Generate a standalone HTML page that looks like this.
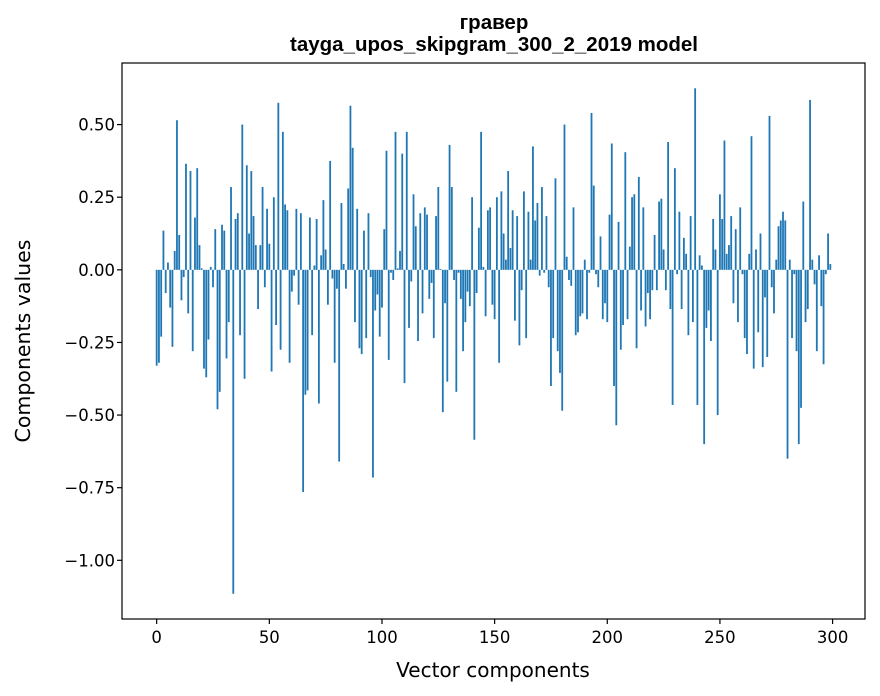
<!DOCTYPE html>
<html><head><meta charset="utf-8"><style>
body{margin:0;background:#fff;}
svg{display:block;font-family:"DejaVu Sans","Liberation Sans",sans-serif;}
</style></head><body>
<svg id="chart" width="880" height="696">
<rect width="880" height="696" fill="#fff"/>
<text x="494" y="29" text-anchor="middle" font-size="20.5" font-weight="bold" font-family="Liberation Sans, sans-serif">гравер</text>
<text x="494" y="51" text-anchor="middle" font-size="20.5" font-weight="bold" font-family="Liberation Sans, sans-serif">tayga_upos_skipgram_300_2_2019 model</text>
<g id="bars"></g>
<g id="axes"></g>
<text x="493" y="677" text-anchor="middle" font-size="20">Vector components</text>
<text transform="translate(30,341) rotate(-90)" text-anchor="middle" font-size="20.5">Components values</text>
</svg>
<script>
const values = [
-0.33,-0.32,-0.23,0.135,-0.08,0.025,-0.13,-0.265,0.065,0.515,0.12,-0.105,-0.025,0.365,-0.15,0.34,-0.28,0.18,0.35,0.085,0.005,-0.34,-0.37,-0.24,0.01,-0.06,0.14,-0.48,-0.42,0.155,0.135,-0.305,-0.18,0.285,-1.115,0.175,0.195,-0.225,0.5,-0.375,0.36,0.125,0.34,0.185,0.085,-0.135,0.085,0.285,-0.06,0.21,0.09,
-0.35,0.25,-0.19,0.575,-0.275,0.475,0.225,0.205,-0.32,-0.075,-0.02,0.21,-0.12,0.195,-0.765,-0.43,-0.415,0.18,-0.225,0.015,0.175,-0.46,0.05,0.24,0.07,-0.12,0.375,-0.03,-0.32,-0.065,-0.66,0.23,0.02,-0.065,0.28,0.565,0.42,-0.18,0.21,-0.27,-0.29,0.135,-0.235,0.195,-0.025,-0.715,-0.14,-0.085,-0.23,-0.13,0.14,
0.41,-0.31,-0.01,-0.035,0.475,0.005,0.065,0.40,-0.39,0.475,-0.2,-0.04,0.26,0.15,-0.245,0.195,-0.15,0.215,0.19,-0.1,-0.045,-0.235,0.185,0.285,0.003,-0.49,-0.115,-0.385,0.43,0.285,-0.035,-0.42,-0.01,-0.1,-0.28,-0.18,-0.075,-0.125,0.25,-0.585,-0.08,0.145,0.475,0.01,-0.16,0.205,0.215,-0.12,-0.17,0.25,
-0.32,0.27,0.125,0.035,0.34,0.075,0.205,-0.175,0.185,-0.26,-0.07,0.27,-0.235,0.2,0.035,0.425,0.17,0.23,-0.02,0.285,-0.01,0.185,-0.06,-0.4,-0.235,0.315,-0.28,-0.355,-0.485,0.5,0.045,-0.035,-0.055,0.215,-0.225,-0.215,-0.16,-0.15,0.035,-0.17,-0.01,0.54,0.29,-0.015,-0.06,0.115,-0.17,-0.115,-0.18,0.19,
0.435,-0.4,-0.535,0.165,-0.275,-0.19,0.405,-0.17,0.08,0.25,0.26,-0.27,0.32,-0.14,0.215,-0.195,-0.08,-0.17,-0.07,0.12,-0.07,0.235,0.245,0.07,-0.07,0.44,-0.135,-0.465,0.35,-0.015,0.2,-0.135,0.11,0.055,-0.225,0.185,-0.18,0.625,-0.465,0.05,0.015,-0.6,-0.2,-0.14,-0.245,0.175,0.07,-0.5,0.26,0.175,
0.445,0.055,0.085,0.185,-0.115,0.14,-0.18,0.215,-0.015,-0.235,-0.29,0.055,0.46,-0.34,0.07,-0.215,0.125,-0.335,-0.095,-0.3,0.53,-0.06,-0.15,0.035,0.15,0.17,0.2,0.17,-0.65,0.035,-0.235,-0.015,-0.28,-0.6,-0.475,0.235,-0.18,-0.135,0.585,0.035,-0.05,-0.28,0.05,-0.125,-0.325,-0.015,0.125,0.02
];
const xTicks = [0,50,100,150,200,250,300];
const yTicks = [0.5,0.25,0,-0.25,-0.5,-0.75,-1.0];

const NS="http://www.w3.org/2000/svg";
const L=122,R=865,T=63,B=619;
const n=values.length;
const xmin=-0.4-0.05*(n-0.2), xmax=(n-1)+0.4+0.05*(n-0.2);
const vmax=Math.max(...values), vmin=Math.min(...values);
const ymin=vmin-0.05*(vmax-vmin), ymax=vmax+0.05*(vmax-vmin);
const X=v=>L+(v-xmin)/(xmax-xmin)*(R-L);
const Y=v=>B-(v-ymin)/(ymax-ymin)*(B-T);
const bars=document.getElementById('bars');
values.forEach((v,i)=>{
  const r=document.createElementNS(NS,'rect');
  const y0=Y(0), y1=Y(v);
  r.setAttribute('x',X(i-0.4));
  r.setAttribute('width',X(i+0.4)-X(i-0.4));
  r.setAttribute('y',Math.min(y0,y1));
  r.setAttribute('height',Math.max(Math.abs(y1-y0),0.3));
  r.setAttribute('fill','#1f77b4');
  
  
  bars.appendChild(r);
});
const axes=document.getElementById('axes');
function el(tag,attrs,txt){const e=document.createElementNS(NS,tag);for(const k in attrs)e.setAttribute(k,attrs[k]);if(txt!==undefined)e.textContent=txt;axes.appendChild(e);return e;}
const frame=el('rect',{x:L,y:T,width:R-L,height:B-T,fill:'none',stroke:'#000','stroke-width':1.2});


xTicks.forEach(t=>{
  const x=X(t);
  const tk=el('line',{x1:x,x2:x,y1:B,y2:B+5,stroke:'#000','stroke-width':1.2});
  
  
  const lb=el('text',{x:x,y:B+24,'text-anchor':'middle','font-size':16.5},String(t));
  
  
});
yTicks.forEach(t=>{
  const y=Y(t);
  const tk=el('line',{x1:L-5,x2:L,y1:y,y2:y,stroke:'#000','stroke-width':1.2});
  
  
  const s=(t<0?'\u2212':'')+Math.abs(t).toFixed(2);
  const lb=el('text',{x:L-7,y:y+6,'text-anchor':'end','font-size':16.5},s);
  
  
});
</script>
</body></html>
